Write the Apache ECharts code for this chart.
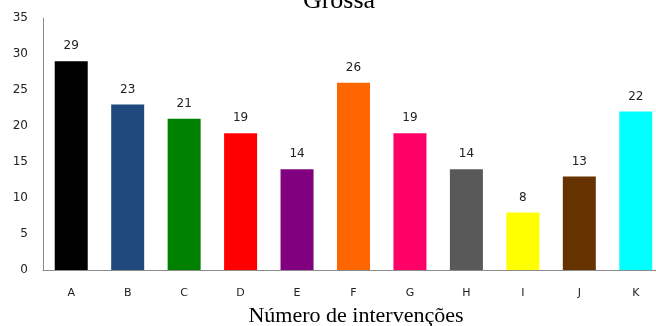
<!DOCTYPE html>
<html><head><meta charset="utf-8">
<script src="https://cdn.jsdelivr.net/npm/echarts@6/dist/echarts.min.js"></script>
<style>html,body{margin:0;padding:0;background:#fff;overflow:hidden}#c{width:656px;height:326px}</style>
</head><body><div id="c"></div>
<script>
const categories = ['A','B','C','D','E','F','G','H','I','J','K'];
const values = [29,23,21,19,14,26,19,14,8,13,22];
const barColors = ['#000000','#1F497D','#008000','#FF0000','#800080','#FF6600','#FF0066','#595959','#FFFF00','#663300','#00FFFF'];
const yTicks = [0,5,10,15,20,25,30,35];
const titleText = 'Grossa';
const xAxisTitle = 'Número de intervenções';

const chart = echarts.init(document.getElementById('c'), null, {renderer:'canvas'});
chart.setOption({
  animation:false,
  backgroundColor:'#fff',
  title:{text:titleText,left:334,textAlign:'center',top:-17,
    textStyle:{fontFamily:'Liberation Serif',fontSize:26,fontWeight:'normal',color:'#000'}},
  grid:{left:43,top:18,width:621,height:252,containLabel:false,outerBoundsMode:'none'},
  xAxis:{type:'category',data:categories,
    axisLine:{lineStyle:{color:'#8c8c8c',width:1}},
    axisTick:{show:false},
    axisLabel:{color:'#222',fontFamily:'DejaVu Sans',fontSize:11,margin:18},
    name:xAxisTitle,nameLocation:'middle',nameGap:35,
    nameTextStyle:{fontFamily:'Liberation Serif',fontSize:22,color:'#000',padding:[0,0,0,5]}},
  yAxis:{type:'value',min:yTicks[0],max:yTicks[yTicks.length-1],interval:5,
    axisLine:{show:true,lineStyle:{color:'#8c8c8c',width:1}},
    axisTick:{show:false},
    splitLine:{show:false},
    axisLabel:{color:'#222',fontFamily:'DejaVu Sans',fontSize:12,margin:15}},
  series:[{type:'bar',data:values.map((v,i)=>({value:v,itemStyle:{color:barColors[i]}})),
    barWidth:33,
    label:{show:true,position:'top',distance:9,color:'#222',fontFamily:'DejaVu Sans',fontSize:12}}]
});
</script></body></html>
